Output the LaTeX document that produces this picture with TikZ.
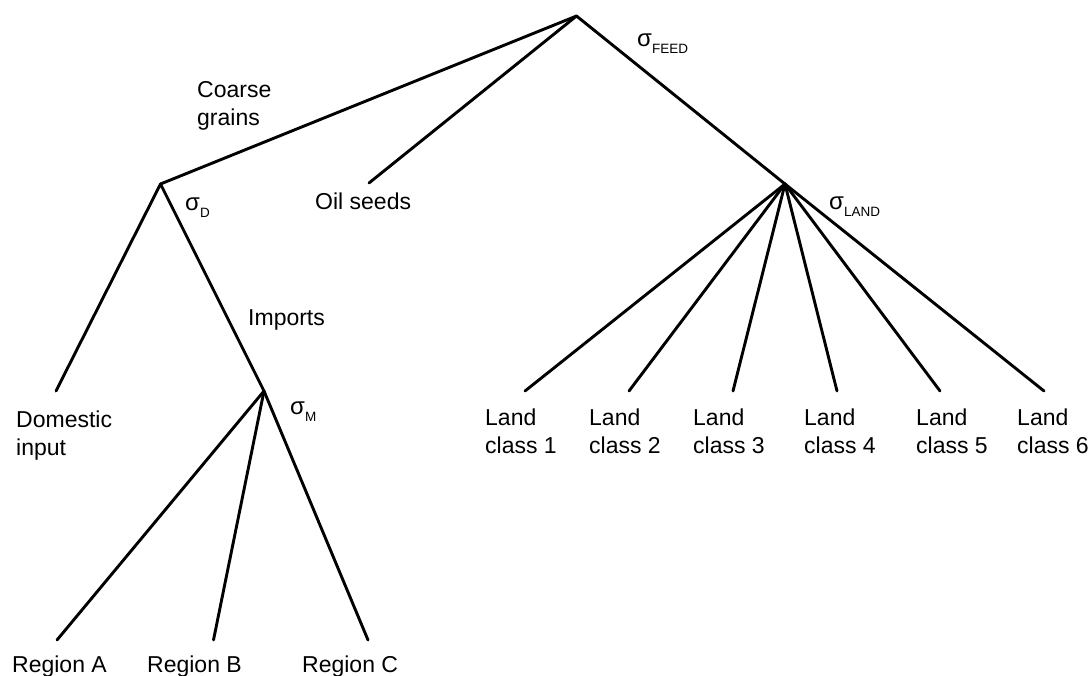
\documentclass[tikz,border=0pt]{standalone}
\usepackage{fontspec}
\setmainfont{Liberation Sans}
\begin{document}
\begin{tikzpicture}[x=1pt,y=-1pt,
  edge/.style={line width=2.9pt,line cap=round,line join=round},
  lbl/.style={anchor=base west,inner sep=0pt,align=left,font=\fontsize{23}{28}\selectfont},
  sig/.style={anchor=base west,inner sep=0pt,font=\fontsize{24}{28}\selectfont}]
\useasboundingbox (0,0) rectangle (1092,675);
\newcommand{\sgsub}[1]{\raisebox{-7pt}{\fontsize{13.5}{14}\selectfont #1}}
% junctions
\coordinate (root) at (576.5,16);
\coordinate (cg) at (160.5,184);
\coordinate (os) at (369,183);
\coordinate (ld) at (785,184);
\coordinate (dom) at (56,391);
\coordinate (imp) at (264,391);
\coordinate (ra) at (57,640);
\coordinate (rb) at (213.5,640);
\coordinate (rc) at (368,640);
\coordinate (l1) at (525,391);
\coordinate (l2) at (629,391);
\coordinate (l3) at (733,391);
\coordinate (l4) at (837,391);
\coordinate (l5) at (940,391);
\coordinate (l6) at (1044,391);
% edges
\draw[edge] (cg) -- (root) -- (ld);
\draw[edge] (root) -- (os);
\draw[edge] (dom) -- (cg) -- (imp);
\draw[edge] (ra) -- (imp) -- (rc);
\draw[edge] (imp) -- (rb);
\foreach \n in {l1,l2,l3,l4,l5,l6} \draw[edge] (ld) -- (\n);
% labels (base = last line)
\node[lbl] (tcg) at (197,125) {Coarse\\grains};
\node[lbl] (tos) at (315,209) {Oil seeds};
\node[lbl] (timp) at (248,325) {Imports};
\node[lbl] (tdom) at (16,455) {Domestic\\input};
\node[lbl] (tl1) at (485,453) {Land\\class 1};
\node[lbl] (tl2) at (589,453) {Land\\class 2};
\node[lbl] (tl3) at (693,453) {Land\\class 3};
\node[lbl] (tl4) at (804,453) {Land\\class 4};
\node[lbl] (tl5) at (916,453) {Land\\class 5};
\node[lbl] (tl6) at (1017,453) {Land\\class 6};
\node[lbl] (tra) at (12,672) {Region A};
\node[lbl] (trb) at (147,672) {Region B};
\node[lbl] (trc) at (302,672) {Region C};
% sigmas
\node[sig] (sfeed) at (637,46) {σ\sgsub{FEED}};
\node[sig] (sd) at (185,210) {σ\sgsub{D}};
\node[sig] (sland) at (829,209) {σ\sgsub{LAND}};
\node[sig] (sm) at (290,414) {σ\sgsub{M}};
\end{tikzpicture}
\end{document}
